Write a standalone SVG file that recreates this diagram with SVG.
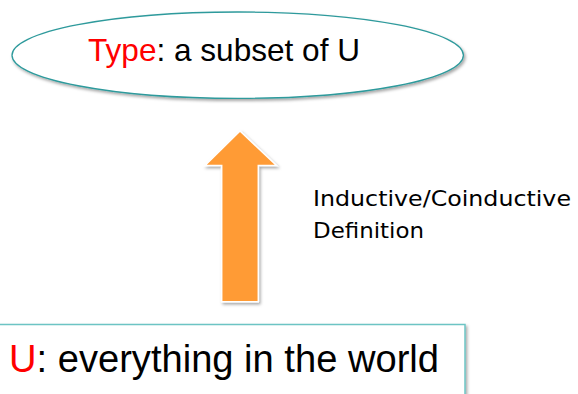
<svg xmlns="http://www.w3.org/2000/svg" width="578" height="394" viewBox="0 0 578 394">
  <style>
    .label { font-family: "Liberation Sans", Arial, sans-serif; fill: #000000; }
    .hl { fill: #FF0000; }
    .note { font-family: "DejaVu Sans", "Comic Sans MS", sans-serif; font-size: 20.5px; fill: #000000; }
    .shape { fill: #FFFFFF; }
  </style>
  <defs>
    <filter id="shadow" x="-10%" y="-10%" width="120%" height="130%">
      <feDropShadow dx="1.5" dy="2" stdDeviation="1.5" flood-color="#000000" flood-opacity="0.35"/>
    </filter>
  </defs>

  <rect x="0" y="0" width="578" height="394" fill="#FFFFFF"/>

  <!-- the set of all values -->
  <g id="universe">
    <rect class="shape" x="-3" y="324.5" width="468" height="80" stroke="#6CC4C4" stroke-width="1.5" filter="url(#shadow)"/>
    <text class="label" x="9" y="371.5" font-size="39" textLength="430" lengthAdjust="spacingAndGlyphs"><tspan class="hl">U</tspan>: everything in the world</text>
  </g>

  <!-- a type carved out of it -->
  <g id="type">
    <ellipse class="shape" cx="237.7" cy="55.2" rx="225.7" ry="43.2" stroke="#2E9A9C" stroke-width="1.3" filter="url(#shadow)"/>
    <text class="label" x="88" y="61" font-size="31.5" textLength="272" lengthAdjust="spacingAndGlyphs"><tspan class="hl">Type</tspan>: a subset of U</text>
  </g>

  <!-- block arrow from the universe up to the type -->
  <g id="connectors">
    <polygon points="240,131 276.5,165.5 258.3,165.5 258.3,301.7 221.7,301.7 221.7,165.5 205,165.5" fill="#FF9B35" stroke="#FFFFFF" stroke-width="1.5" stroke-linejoin="miter" filter="url(#shadow)"/>
    <text class="note" x="313" y="206" textLength="258" lengthAdjust="spacingAndGlyphs">Inductive/Coinductive</text>
    <text class="note" x="313" y="238" textLength="111" lengthAdjust="spacingAndGlyphs">Definition</text>
  </g>
</svg>
